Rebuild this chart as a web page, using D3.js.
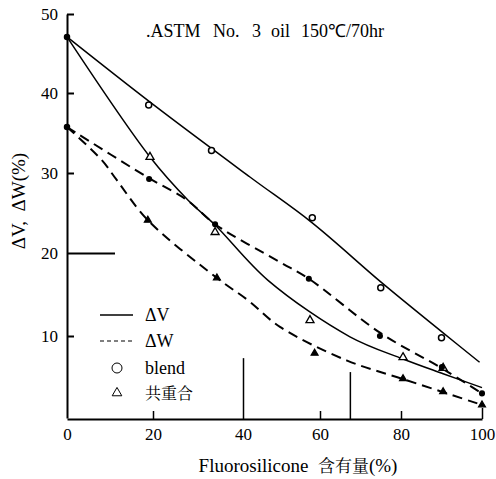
<!DOCTYPE html>
<html><head><meta charset="utf-8">
<script src="https://cdn.jsdelivr.net/npm/d3@7"></script>
<style>body{margin:0;background:#fff} text{font-family:"Liberation Serif","DejaVu Serif",serif}</style>
</head><body><svg id="c" width="496" height="479"></svg>
<script>
// ---- data ----
const xTicks = [0, 20, 40, 60, 80, 100];
const yTicks = [10, 20, 30, 40, 50];
// pure base rubber (0 % fluorosilicone)
const pureX = [0, 0];
const pureY = [47.1, 35.75];
// ΔV, blend (open circles)
const blendVx = [19, 33, 58, 75, 90];
const blendV  = [38.5, 32.8, 24.4, 15.8, 9.8];
// ΔV, copolymer (open triangles)
const copoVx = [19.3, 33.8, 57.4, 80.5, 90.4];
const copoV  = [32, 22.6, 11.9, 7.4, 6.1];
// ΔW, blend (filled circles)
const blendWx = [19.1, 33.8, 57.1, 74.8, 90.1, 100];
const blendW  = [29.25, 23.6, 16.9, 10.0, 6.2, 3.0];
// ΔW, copolymer (filled triangles)
const copoWx = [18.8, 34.2, 58.6, 80.5, 90.4, 100];
const copoW  = [24.1, 17.0, 7.9, 4.8, 3.2, 1.6];
// drawn curves
const curveBVx = [0, 19.7, 41.8, 57.9, 75.3, 90.1, 99.4];
const curveBV  = [47.1, 38.7, 29.5, 23.8, 16.4, 10.5, 6.8];
const curveCVx = [0, 19.3, 27.8, 33.8, 46.5, 67.4, 80.5, 90.4, 100];
const curveCV  = [47.1, 32, 26.6, 23.5, 16.7, 9.9, 7.2, 5.4, 3.7];
const curveBWx = [0, 18.6, 27.6, 33.8, 49.6, 57.1, 74.8, 89.6, 100];
const curveBW  = [35.75, 29.5, 26.6, 23.6, 18.9, 16.9, 10.4, 6.2, 3.0];
const curveCWx = [0, 8.1, 11.6, 18.8, 34.2, 41.3, 49.6, 66.7, 80.5, 100];
const curveCW  = [35.75, 31.6, 29.1, 24.1, 17.0, 14.3, 11.1, 7.0, 4.75, 1.6];

const titleParts = [".ASTM", "No.", "3", "oil", "150\u2103/70hr"];
const yTitle = "\u0394V,  \u0394W(%)";
const legendLabels = ["\u0394V", "\u0394W", "blend", "\u5171\u91cd\u5408"];

// ---- scales ----
const x = d3.scaleLinear().domain(xTicks).range([67, 153, 243, 320, 401, 482]);
const y = d3.scaleLinear().domain([0, 10, 20, 30, 40, 50]).range([418, 336, 253, 173, 93, 14]);

const svg = d3.select("#c");
const serif = "Liberation Serif";
const cjk = "Noto Serif CJK JP";

// axes
const ax = svg.append("g").attr("transform", "translate(0,419)")
  .call(d3.axisBottom(x).tickValues(xTicks).tickSizeInner(-8).tickSizeOuter(0).tickPadding(9));
ax.attr("font-family", null).attr("font-size", null);
ax.select(".domain").attr("stroke-width", 2);
ax.selectAll(".tick line").attr("stroke-width", 1.5);
ax.selectAll(".tick").filter(d => d === 0).select("line").remove();
ax.selectAll(".tick").filter(d => d === 40).select("line").attr("y2", y(7.3) - 419);
ax.selectAll(".tick").filter(d => d === 100).select("line").attr("y2", -11);
ax.selectAll("text").style("font-family", serif).attr("font-size", 17).attr("fill", "#000");
// extra vertical mark
svg.append("line").attr("x1", x(67.5)).attr("x2", x(67.5)).attr("y1", y(5.6)).attr("y2", 419)
  .attr("stroke", "#000").attr("stroke-width", 1.5);

const ay = svg.append("g").attr("transform", "translate(67,0)")
  .call(d3.axisLeft(y).tickValues(yTicks).tickSizeInner(-7).tickSizeOuter(0).tickPadding(9));
ay.attr("font-family", null).attr("font-size", null);
ay.select(".domain").attr("stroke-width", 2);
ay.selectAll(".tick line").attr("stroke-width", 2);
ay.selectAll(".tick").filter(d => d === 20).select("line").attr("x2", 48);
ay.selectAll("text").style("font-family", serif).attr("font-size", 17).attr("fill", "#000");

// curves
const line = d3.line().x(d => x(d[0])).y(d => y(d[1])).curve(d3.curveCatmullRom.alpha(0.5));
const zip = (a, b) => a.map((v, i) => [v, b[i]]);
const curves = [
  [zip(curveBVx, curveBV), null, 1.5],
  [zip(curveCVx, curveCV), null, 1.5],
  [zip(curveBWx, curveBW), "10,6", 2],
  [zip(curveCWx, curveCW), "10,6", 2]
];
curves.forEach(([pts, dash, w]) => {
  svg.append("path").attr("d", line(pts)).attr("fill", "none").attr("stroke", "#000")
    .attr("stroke-width", w).attr("stroke-dasharray", dash);
});

// markers
const tri = d3.symbol().type(d3.symbolTriangle);
function circles(xs, ys, r, filled) {
  svg.append("g").selectAll("circle").data(zip(xs, ys)).join("circle")
    .attr("cx", d => x(d[0])).attr("cy", d => y(d[1])).attr("r", r)
    .attr("fill", filled ? "#000" : "#fff").attr("stroke", "#000").attr("stroke-width", 1.5);
}
function triangles(xs, ys, size, filled) {
  svg.append("g").selectAll("path").data(zip(xs, ys)).join("path")
    .attr("d", tri.size(size)())
    .attr("transform", d => `translate(${x(d[0])},${y(d[1])})`)
    .attr("fill", filled ? "#000" : "#fff").attr("stroke", "#000").attr("stroke-width", 1.3);
}
circles(pureX, pureY, 2.5, true);
circles(blendVx, blendV, 3, false);
triangles(copoVx, copoV, 28, false);
circles(blendWx, blendW, 2.3, true);
triangles(copoWx, copoW, 20, true);

// legend
const lg = svg.append("g");
lg.append("line").attr("x1", 100).attr("x2", 133).attr("y1", 315).attr("y2", 315)
  .attr("stroke", "#000").attr("stroke-width", 1.3);
lg.append("line").attr("x1", 100).attr("x2", 133).attr("y1", 341).attr("y2", 341)
  .attr("stroke", "#000").attr("stroke-width", 1.1).attr("stroke-dasharray", "4,3");
lg.append("circle").attr("cx", 117).attr("cy", 368).attr("r", 5)
  .attr("fill", "none").attr("stroke", "#000").attr("stroke-width", 1);
lg.append("path").attr("d", tri.size(40)()).attr("transform", "translate(117,393)")
  .attr("fill", "none").attr("stroke", "#000").attr("stroke-width", 1);
[[315, serif, 18], [341, serif, 18], [368, serif, 18], [393, cjk, 16]].forEach(([yy, f, s], i) => {
  lg.append("text").attr("x", 145).attr("y", yy).attr("dy", "0.35em")
    .style("font-family", f).attr("font-size", s).text(legendLabels[i]);
});

// titles
const tt = svg.append("text").attr("y", 37).style("font-family", serif).attr("font-size", 18);
[146, 213, 252, 271, 301].forEach((px, i) => tt.append("tspan").attr("x", px).text(titleParts[i]));
svg.append("text").attr("transform", "translate(25,201) rotate(-90)").attr("text-anchor", "middle")
  .style("font-family", serif).attr("font-size", 19).style("white-space", "pre").text(yTitle);
const xt = svg.append("text").attr("x", 298).attr("y", 472).attr("text-anchor", "middle")
  .attr("font-size", 19).style("white-space", "pre");
xt.append("tspan").style("font-family", serif).text("Fluorosilicone  ");
xt.append("tspan").style("font-family", cjk).attr("font-size", 17).text("\u542b\u6709\u91cf");
xt.append("tspan").style("font-family", serif).text("(%)");
</script>
</body></html>
